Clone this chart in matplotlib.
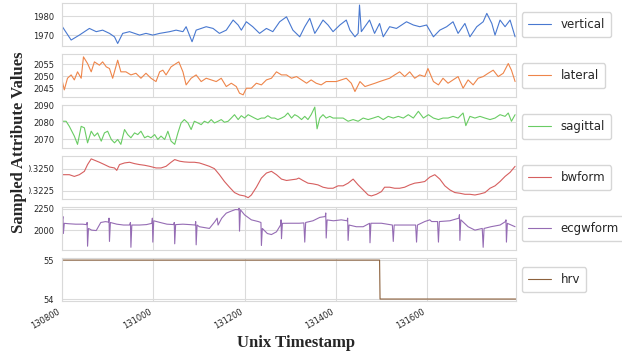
import matplotlib
matplotlib.use("Agg")
import matplotlib.pyplot as plt
import seaborn as sns

# ---- data ----
vert_t = [130800,130820,130838,130860,130875,130889,130904,130915,130922,130933,
          130948,130970,130984,130999,131014,131036,131050,131065,131072,131085,
          131094,131116,131131,131145,131160,131175,131186,131193,131204,131218,
          131233,131248,131262,131277,131292,131306,131321,131332,131343,131354,
          131361,131372,131383,131394,131409,131423,131431,131442,131449,131452,
          131456,131474,131485,131496,131504,131518,131533,131555,131570,131584,
          131599,131614,131628,131643,131657,131668,131683,131694,131709,131723,
          131731,131742,131749,131760,131771,131782,131793]
vert_v = [1974.7,1967.4,1970.0,1973.5,1971.8,1972.6,1970.9,1969.1,1965.6,1970.9,
          1971.8,1970.0,1970.9,1970.0,1970.9,1971.8,1972.6,1971.8,1974.4,1966.5,
          1972.6,1974.4,1973.5,1970.9,1972.6,1977.9,1975.3,1972.6,1977.0,1974.4,
          1970.9,1973.5,1971.8,1977.0,1979.6,1972.6,1969.1,1974.4,1978.8,1970.9,
          1973.5,1977.9,1975.3,1971.8,1975.3,1977.9,1972.6,1969.1,1970.9,1985.8,
          1971.8,1977.9,1970.9,1976.1,1969.1,1974.4,1973.5,1977.0,1975.3,1974.4,
          1975.3,1969.1,1972.6,1974.4,1977.0,1970.9,1976.1,1969.1,1974.4,1977.0,
          1981.4,1976.1,1970.0,1977.9,1974.4,1977.9,1969.1]

lat_t = [130800,130805,130812,130820,130827,130834,130842,130847,130856,130864,
         130871,130882,130889,130897,130904,130911,130922,130929,130940,130951,
         130962,130973,130984,130995,131006,131014,131021,131028,131039,131050,
         131056,131065,131072,131083,131094,131105,131116,131127,131138,131149,
         131160,131171,131182,131189,131197,131204,131215,131226,131237,131248,
         131259,131270,131281,131292,131303,131314,131325,131336,131346,131357,
         131368,131379,131390,131401,131412,131423,131434,131442,131453,131464,
         131475,131486,131496,131507,131518,131529,131540,131551,131562,131573,
         131584,131595,131602,131614,131625,131635,131646,131657,131668,131679,
         131690,131701,131712,131723,131734,131745,131756,131767,131778,131785,
         131793]
lat_v = [2048.5,2044.3,2049.2,2050.6,2048.5,2051.9,2049.2,2058.2,2055.4,2051.9,
         2056.1,2054.7,2056.1,2054.0,2053.3,2049.2,2056.8,2051.9,2051.9,2050.6,
         2051.3,2049.2,2051.3,2049.2,2047.8,2051.9,2052.6,2050.6,2054.0,2055.4,
         2056.1,2051.9,2046.4,2049.2,2050.6,2047.8,2049.2,2048.5,2047.8,2049.2,
         2045.7,2047.1,2045.7,2042.9,2042.2,2045.0,2045.0,2047.1,2046.4,2048.5,
         2049.2,2051.9,2050.6,2050.6,2049.2,2049.9,2048.5,2047.1,2048.5,2047.1,
         2046.4,2047.8,2047.8,2047.8,2048.5,2049.2,2047.1,2043.6,2047.8,2045.7,
         2046.4,2047.1,2047.8,2048.5,2049.2,2050.6,2051.9,2049.9,2051.9,2049.2,
         2050.6,2049.9,2053.3,2047.8,2046.4,2049.2,2047.1,2048.5,2049.9,2045.0,
         2048.5,2046.4,2049.2,2049.9,2051.3,2052.6,2049.9,2051.3,2055.4,2052.6,
         2047.8]

sag_t = [130800,130809,130816,130827,130834,130842,130849,130856,130864,130871,
         130878,130886,130893,130900,130908,130915,130922,130929,130937,130944,
         130951,130959,130966,130973,130981,130988,130995,131003,131010,131017,
         131025,131032,131039,131047,131054,131061,131068,131076,131083,131090,
         131098,131105,131112,131120,131127,131134,131142,131149,131156,131164,
         131171,131178,131186,131193,131200,131208,131215,131222,131229,131237,
         131244,131251,131259,131266,131273,131281,131288,131295,131303,131310,
         131317,131325,131332,131339,131346,131354,131359,131365,131372,131379,
         131387,131394,131405,131416,131427,131438,131449,131460,131471,131482,
         131493,131504,131515,131526,131537,131548,131559,131570,131581,131592,
         131603,131614,131625,131635,131646,131657,131668,131679,131685,131694,
         131705,131716,131727,131738,131749,131760,131771,131778,131785,131793]
sag_v = [2080.6,2080.6,2077.6,2071.8,2066.9,2077.6,2076.7,2067.8,2074.7,2071.8,
         2073.7,2068.8,2073.7,2074.7,2069.8,2067.8,2069.8,2066.9,2075.7,2072.7,
         2070.8,2073.7,2072.7,2074.7,2070.8,2071.8,2070.8,2072.7,2069.8,2071.8,
         2069.8,2074.7,2068.8,2066.9,2073.7,2079.6,2081.6,2079.6,2075.7,2080.6,
         2079.6,2078.6,2080.6,2079.6,2081.6,2079.6,2080.6,2081.6,2080.0,2080.6,
         2082.5,2084.5,2081.6,2083.9,2082.5,2084.5,2083.5,2082.5,2081.6,2082.5,
         2082.5,2083.9,2082.5,2082.5,2081.6,2082.5,2083.5,2085.5,2082.5,2084.5,
         2083.5,2081.6,2083.5,2081.6,2084.5,2089.0,2076.1,2082.5,2084.5,2082.5,
         2083.5,2082.5,2082.5,2082.5,2080.6,2081.6,2080.6,2082.5,2081.6,2082.5,
         2083.5,2081.6,2083.5,2082.5,2083.5,2082.5,2084.5,2082.5,2086.5,2082.5,
         2084.5,2082.5,2081.6,2082.5,2082.5,2083.5,2082.5,2085.5,2078.0,2083.5,
         2082.5,2083.5,2082.5,2081.6,2082.5,2084.5,2083.5,2085.5,2080.6,2084.5]

bw_t = [130800,130816,130827,130838,130849,130856,130864,130871,130882,130893,
        130904,130915,130920,130926,130937,130948,130959,130970,130981,130992,
        131006,131017,131028,131039,131047,131058,131068,131079,131090,131101,
        131112,131123,131134,131145,131156,131167,131178,131189,131200,131208,
        131215,131226,131237,131248,131259,131270,131281,131292,131303,131314,
        131319,131328,131339,131350,131361,131372,131383,131394,131405,131416,
        131427,131438,131449,131460,131471,131478,131489,131500,131507,131518,
        131529,131540,131551,131562,131573,131584,131595,131606,131617,131628,
        131639,131650,131661,131672,131683,131694,131705,131716,131727,131738,
        131749,131760,131771,131782,131793]
bw_v = [0.32434,0.32434,0.32414,0.32434,0.32473,0.32551,0.32617,0.32602,0.32578,0.32551,
        0.32523,0.32512,0.32484,0.32551,0.32570,0.32578,0.32562,0.32551,0.32543,0.32531,
        0.32512,0.32512,0.32531,0.32578,0.32609,0.32590,0.32582,0.32578,0.32578,0.32570,
        0.32551,0.32531,0.32504,0.32434,0.32355,0.32289,0.32227,0.32199,0.32188,0.32168,
        0.32199,0.32289,0.32395,0.32453,0.32473,0.32434,0.32383,0.32367,0.32375,0.32383,
        0.32395,0.32367,0.32336,0.32328,0.32316,0.32289,0.32277,0.32277,0.32305,0.32305,
        0.32336,0.32383,0.32316,0.32258,0.32199,0.32188,0.32207,0.32238,0.32289,0.32289,
        0.32277,0.32277,0.32289,0.32316,0.32336,0.32344,0.32355,0.32406,0.32434,0.32383,
        0.32305,0.32258,0.32227,0.32219,0.32207,0.32207,0.32199,0.32211,0.32227,0.32277,
        0.32305,0.32355,0.32414,0.32461,0.32531]

ecg_t = [130800,130802,130803,130805,130815,130830,130845,130854,130855,130856,
         130858,130865,130875,130885,130895,130902,130903,130904,130906,130920,
         130935,130948,130950,130951,130953,130970,130985,130997,130998,130999,
         131001,131015,131030,131045,131046,131047,131049,131065,131080,131092,
         131093,131094,131096,131101,131123,131135,131140,131142,131150,131160,
         131170,131180,131187,131188,131189,131191,131200,131215,131230,131236,
         131237,131239,131250,131259,131270,131279,131280,131281,131283,131300,
         131320,131330,131332,131334,131350,131365,131377,131378,131379,131381,
         131395,131412,131425,131426,131427,131429,131445,131460,131474,131475,
         131477,131500,131524,131526,131528,131550,131575,131577,131579,131595,
         131606,131610,131623,131625,131627,131650,131670,131671,131672,131674,
         131690,131705,131721,131723,131725,131740,131760,131772,131773,131774,
         131776,131793]
ecg_v = [2085,2160,1960,2080,2075,2070,2070,2065,2090,1811,
         2020,2000,1995,2090,2100,2095,2141,1867,2090,2070,
         2060,2060,2090,1798,2060,2060,2065,2080,2141,1859,
         2110,2090,2070,2065,2090,1839,2065,2070,2065,2060,
         2100,1827,2060,2040,2020,2100,2141,2060,2140,2200,
         2222,2242,2240,2262,1988,2240,2180,2121,2101,2090,
         1819,2020,1960,1948,1980,2060,2121,1899,2080,2081,
         2081,2085,1859,2090,2110,2150,2160,2202,1907,2120,
         2110,2121,2110,2141,1879,2060,2040,2040,2080,1851,
         2081,2081,2060,1867,2060,2060,2060,1859,2060,2101,
         2121,2101,2101,1859,2101,2110,2141,2181,1879,2121,
         2040,2000,2020,1798,2020,2040,2060,2101,2121,1859,
         2080,2040]

hrv_t = [130800, 131496, 131497, 131795]
hrv_v = [55, 55, 54, 54]

names = ["vertical", "lateral", "sagittal", "bwform", "ecgwform", "hrv"]
series = [(vert_t, vert_v), (lat_t, lat_v), (sag_t, sag_v),
          (bw_t, bw_v), (ecg_t, ecg_v), (hrv_t, hrv_v)]
yticks = [[1970, 1980], [2045, 2050, 2055], [2070, 2080, 2090],
          [0.3225, 0.3250], [2000, 2250], [54, 55]]
ylims = [(1964.2, 1986.7), (2041.25, 2059.3), (2064.7, 2090.1),
         (0.32152, 0.32648), (1766, 2270), (53.95, 55.05)]
xticks = [130800, 131000, 131200, 131400, 131600]

sns.set_style("whitegrid")
colors = sns.color_palette("muted")

fig, axes = plt.subplots(6, 1, figsize=(6.22, 3.51), dpi=100, sharex=True)
fig.subplots_adjust(left=0.0997, right=0.8296, top=0.9906, bottom=0.1425, hspace=0.19)

for i, ax in enumerate(axes):
    t, v = series[i]
    ax.plot(t, v, color=colors[i], lw=0.8, label=names[i])
    ax.set_ylim(*ylims[i])
    ax.set_yticks(yticks[i])
    if i == 3:
        ax.set_yticklabels(["0.3225", "0.3250"])
    ax.tick_params(axis="y", labelsize=6, pad=2, colors=".15")
    ax.tick_params(axis="x", labelsize=6, pad=1, colors=".15")
    ax.legend(loc="center left", bbox_to_anchor=(1.0, 0.5), fontsize=8.5,
              handlelength=2.0, borderpad=0.5)
    for s in ax.spines.values():
        s.set_color(".85")
    ax.grid(color=".86", lw=0.8)

axes[-1].set_xlim(130800, 131795)
axes[-1].set_xticks(xticks)
for lab in axes[-1].get_xticklabels():
    lab.set_rotation(30)
    lab.set_ha("right")

# y label sits on a white patch that hides the left edge of the long tick labels
fig.text(0.030, 1 - 142 / 351, "Sampled Attribute Values", rotation=90,
         ha="center", va="center", fontsize=12, fontweight="bold",
         family="Liberation Serif", zorder=5,
         bbox=dict(facecolor="white", edgecolor="none", pad=1.5))
fig.text(296 / 622, 1 - 343 / 351, "Unix Timestamp", ha="center", va="center",
         fontsize=12, fontweight="bold", family="Liberation Serif")

fig.savefig("out.png", dpi=100)
